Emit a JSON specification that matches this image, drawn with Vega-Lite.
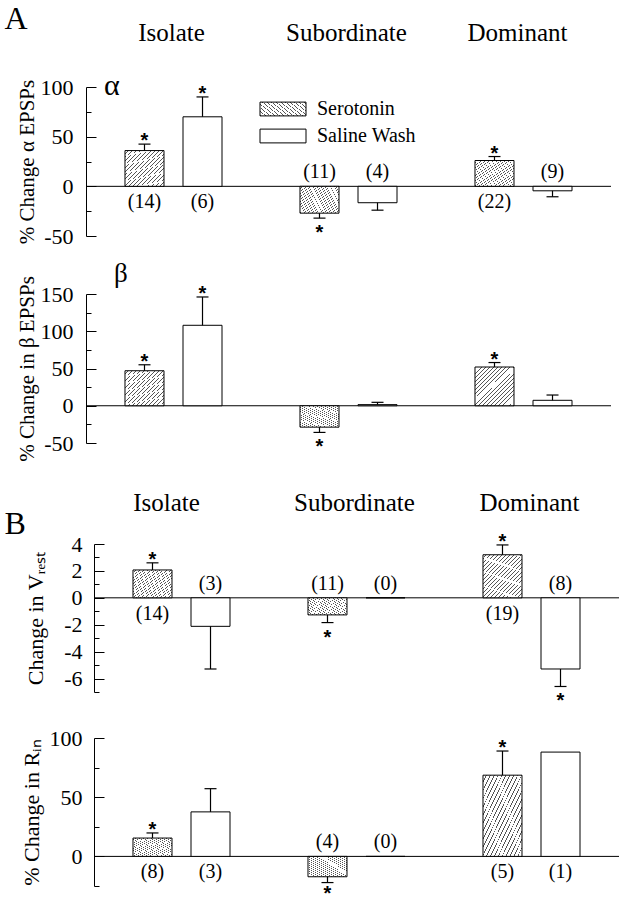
{
  "$schema": "https://vega.github.io/schema/vega-lite/v6.json",
  "padding": {"left": 4, "top": 2, "right": 0, "bottom": 0},
  "background": "white",
  "bounds": "flush",
  "spacing": 46,
  "params": [
    {"name": "hatch", "expr": "{gradient:'linear',x1:0,y1:0,x2:1,y2:1,stops:[{offset:0,color:'#fff'},{offset:0.039,color:'#fff'},{offset:0.039,color:'#555'},{offset:0.05,color:'#555'},{offset:0.05,color:'#fff'},{offset:0.089,color:'#fff'},{offset:0.089,color:'#555'},{offset:0.1,color:'#555'},{offset:0.1,color:'#fff'},{offset:0.139,color:'#fff'},{offset:0.139,color:'#555'},{offset:0.15,color:'#555'},{offset:0.15,color:'#fff'},{offset:0.189,color:'#fff'},{offset:0.189,color:'#555'},{offset:0.2,color:'#555'},{offset:0.2,color:'#fff'},{offset:0.239,color:'#fff'},{offset:0.239,color:'#555'},{offset:0.25,color:'#555'},{offset:0.25,color:'#fff'},{offset:0.289,color:'#fff'},{offset:0.289,color:'#555'},{offset:0.3,color:'#555'},{offset:0.3,color:'#fff'},{offset:0.339,color:'#fff'},{offset:0.339,color:'#555'},{offset:0.35,color:'#555'},{offset:0.35,color:'#fff'},{offset:0.389,color:'#fff'},{offset:0.389,color:'#555'},{offset:0.4,color:'#555'},{offset:0.4,color:'#fff'},{offset:0.439,color:'#fff'},{offset:0.439,color:'#555'},{offset:0.45,color:'#555'},{offset:0.45,color:'#fff'},{offset:0.489,color:'#fff'},{offset:0.489,color:'#555'},{offset:0.5,color:'#555'},{offset:0.5,color:'#fff'},{offset:0.539,color:'#fff'},{offset:0.539,color:'#555'},{offset:0.55,color:'#555'},{offset:0.55,color:'#fff'},{offset:0.589,color:'#fff'},{offset:0.589,color:'#555'},{offset:0.6,color:'#555'},{offset:0.6,color:'#fff'},{offset:0.639,color:'#fff'},{offset:0.639,color:'#555'},{offset:0.65,color:'#555'},{offset:0.65,color:'#fff'},{offset:0.689,color:'#fff'},{offset:0.689,color:'#555'},{offset:0.7,color:'#555'},{offset:0.7,color:'#fff'},{offset:0.739,color:'#fff'},{offset:0.739,color:'#555'},{offset:0.75,color:'#555'},{offset:0.75,color:'#fff'},{offset:0.789,color:'#fff'},{offset:0.789,color:'#555'},{offset:0.8,color:'#555'},{offset:0.8,color:'#fff'},{offset:0.839,color:'#fff'},{offset:0.839,color:'#555'},{offset:0.85,color:'#555'},{offset:0.85,color:'#fff'},{offset:0.889,color:'#fff'},{offset:0.889,color:'#555'},{offset:0.9,color:'#555'},{offset:0.9,color:'#fff'},{offset:0.939,color:'#fff'},{offset:0.939,color:'#555'},{offset:0.95,color:'#555'},{offset:0.95,color:'#fff'},{offset:0.989,color:'#fff'},{offset:0.989,color:'#555'},{offset:1,color:'#555'}]}"}
  ],
  "data": {"values": [
    {"p": "a", "g": "Isolate", "c": "Serotonin", "v": 36, "err": 42.5, "nl": "(14)", "sig": true},
    {"p": "a", "g": "Isolate", "c": "Saline Wash", "v": 70, "err": 90, "nl": "(6)", "sig": true},
    {"p": "a", "g": "Subordinate", "c": "Serotonin", "v": -27, "err": -32, "nl": "(11)", "sig": true},
    {"p": "a", "g": "Subordinate", "c": "Saline Wash", "v": -16.5, "err": -24, "nl": "(4)", "sig": false},
    {"p": "a", "g": "Dominant", "c": "Serotonin", "v": 26, "err": 30, "nl": "(22)", "sig": true},
    {"p": "a", "g": "Dominant", "c": "Saline Wash", "v": -4.5, "err": -10.5, "nl": "(9)", "sig": false},
    {"p": "b", "g": "Isolate", "c": "Serotonin", "v": 47, "err": 55, "nl": null, "sig": true},
    {"p": "b", "g": "Isolate", "c": "Saline Wash", "v": 108, "err": 146, "nl": null, "sig": true},
    {"p": "b", "g": "Subordinate", "c": "Serotonin", "v": -28.7, "err": -35.8, "nl": null, "sig": true},
    {"p": "b", "g": "Subordinate", "c": "Saline Wash", "v": 1.5, "err": 4.6, "nl": null, "sig": false},
    {"p": "b", "g": "Dominant", "c": "Serotonin", "v": 52, "err": 58, "nl": null, "sig": true},
    {"p": "b", "g": "Dominant", "c": "Saline Wash", "v": 7.3, "err": 14.4, "nl": null, "sig": false},
    {"p": "v", "g": "Isolate", "c": "Serotonin", "v": 2.07, "err": 2.6, "nl": "(14)", "sig": true},
    {"p": "v", "g": "Isolate", "c": "Saline Wash", "v": -2.12, "err": -5.29, "nl": "(3)", "sig": false},
    {"p": "v", "g": "Subordinate", "c": "Serotonin", "v": -1.27, "err": -1.84, "nl": "(11)", "sig": true},
    {"p": "v", "g": "Subordinate", "c": "Saline Wash", "v": 0, "err": null, "nl": "(0)", "sig": false},
    {"p": "v", "g": "Dominant", "c": "Serotonin", "v": 3.2, "err": 3.93, "nl": "(19)", "sig": true},
    {"p": "v", "g": "Dominant", "c": "Saline Wash", "v": -5.29, "err": -6.59, "nl": "(8)", "sig": true},
    {"p": "r", "g": "Isolate", "c": "Serotonin", "v": 15.5, "err": 19.8, "nl": "(8)", "sig": true},
    {"p": "r", "g": "Isolate", "c": "Saline Wash", "v": 37.6, "err": 57.2, "nl": "(3)", "sig": false},
    {"p": "r", "g": "Subordinate", "c": "Serotonin", "v": -17.2, "err": -22.1, "nl": "(4)", "sig": true},
    {"p": "r", "g": "Subordinate", "c": "Saline Wash", "v": 0, "err": null, "nl": "(0)", "sig": false},
    {"p": "r", "g": "Dominant", "c": "Serotonin", "v": 68.6, "err": 89, "nl": "(5)", "sig": true},
    {"p": "r", "g": "Dominant", "c": "Saline Wash", "v": 88.1, "err": null, "nl": "(1)", "sig": false}
  ]},
  "resolve": {
    "scale": {"x": "independent", "y": "independent", "xOffset": "independent", "fill": "independent"},
    "axis": {"x": "independent", "y": "independent"},
    "legend": {"fill": "independent"}
  },
  "config": {
    "view": {"stroke": null},
    "font": "Liberation Serif",
    "axis": {"domainColor": "black", "domainWidth": 1, "tickColor": "black", "tickWidth": 1, "labelColor": "black", "titleColor": "black", "labelFont": "Liberation Serif", "titleFont": "Liberation Serif", "titleFontWeight": "normal", "grid": false}
  },
  "vconcat": [
    {
      "width": 525, "height": 149,
      "transform": [{"filter": "datum.p === 'a'"}],
      "encoding": {
        "x": {"field": "g", "type": "nominal", "sort": ["Isolate", "Subordinate", "Dominant"], "scale": {"paddingInner": 0, "paddingOuter": 0},
          "axis": {"orient": "top", "domain": false, "ticks": false, "tickSize": 0, "labelPadding": 47, "labelFontSize": 25, "labelBaseline": "alphabetic", "labelAngle": 0,
            "labelOffset": {"condition": {"test": "datum.value === 'Dominant'", "value": -6}, "value": -2},
            "title": "A", "titleX": -82, "titleY": -59, "titleAlign": "left", "titleBaseline": "alphabetic", "titleAngle": 0, "titleFontSize": 32}},
        "y": {"field": "v", "type": "quantitative", "scale": {"domain": [-50, 100], "nice": false, "zero": false},
          "axis": {"title": "% Change α EPSPs", "titleFontSize": 21, "titlePadding": 3, "values": [-50, -25, 0, 25, 50, 75, 100],
            "labelExpr": "datum.value % 50 === 0 ? '' + datum.value : ''",
            "tickSize": {"condition": {"test": "datum.value % 50 !== 0", "value": -5}, "value": -10},
            "labelPadding": 23, "labelFontSize": 22, "labelOverlap": false, "labelFlush": false}}
      },
      "layer": [
        {"transform": [{"filter": "datum.g === 'Isolate' && datum.c === 'Serotonin'"}], "mark": {"type": "rule", "color": "black", "strokeWidth": 1, "opacity": 1},
          "encoding": {"x": {"datum": "Isolate", "bandPosition": 0}, "x2": {"value": "width"}, "y": {"datum": 0}}},
        {"transform": [{"filter": "datum.v != null"}], "mark": {"type": "bar", "stroke": "black", "strokeWidth": 1, "opacity": 1},
          "encoding": {"xOffset": {"field": "c", "type": "nominal", "sort": ["Serotonin", "Saline Wash"], "scale": {"paddingInner": 0.3276, "paddingOuter": 0.672}},
            "y2": {"datum": 0},
            "fill": {"field": "c", "type": "nominal", "scale": {"domain": ["Serotonin", "Saline Wash"], "range": [{"expr": "hatch"}, "white"]},
              "legend": {"orient": "none", "legendX": 185, "legendY": 10, "title": null, "symbolType": "M-2,-0.6H2V0.6H-2Z", "symbolSize": 529, "symbolStrokeColor": "black", "symbolStrokeWidth": 1, "symbolOpacity": 1, "labelFont": "Liberation Serif", "labelFontSize": 20, "labelColor": "black", "labelOffset": 22, "rowPadding": 5, "labelLimit": 0}}}},
        {"transform": [{"filter": "datum.err != null"}], "mark": {"type": "rule", "color": "black", "strokeWidth": 1.2, "opacity": 1},
          "encoding": {"xOffset": {"field": "c", "type": "nominal", "sort": ["Serotonin", "Saline Wash"]}, "y2": {"field": "err"}}},
        {"transform": [{"filter": "datum.err != null"}], "mark": {"type": "tick", "orient": "horizontal", "size": 12, "thickness": 1.2, "color": "black", "opacity": 1},
          "encoding": {"xOffset": {"field": "c", "type": "nominal", "sort": ["Serotonin", "Saline Wash"]}, "y": {"field": "err", "type": "quantitative"}}},
        {"transform": [{"filter": "datum.sig && datum.v > 0"}], "mark": {"type": "text", "text": "*", "font": "Liberation Sans", "fontWeight": "bold", "fontSize": 20, "baseline": "alphabetic", "dy": 3, "color": "black", "opacity": 1},
          "encoding": {"xOffset": {"field": "c", "type": "nominal", "sort": ["Serotonin", "Saline Wash"]}, "y": {"field": "err", "type": "quantitative"}}},
        {"transform": [{"filter": "datum.sig && datum.v < 0"}], "mark": {"type": "text", "text": "*", "font": "Liberation Sans", "fontWeight": "bold", "fontSize": 20, "baseline": "alphabetic", "dy": 21, "color": "black", "opacity": 1},
          "encoding": {"xOffset": {"field": "c", "type": "nominal", "sort": ["Serotonin", "Saline Wash"]}, "y": {"field": "err", "type": "quantitative"}}},
        {"transform": [{"filter": "datum.nl != null && datum.v > 0"}], "mark": {"type": "text", "font": "Liberation Serif", "fontSize": 20, "baseline": "middle", "dy": 16, "color": "black", "opacity": 1},
          "encoding": {"xOffset": {"field": "c", "type": "nominal", "sort": ["Serotonin", "Saline Wash"]}, "y": {"datum": 0}, "text": {"field": "nl"}}},
        {"transform": [{"filter": "datum.nl != null && !(datum.v > 0)"}], "mark": {"type": "text", "font": "Liberation Serif", "fontSize": 20, "baseline": "middle", "dy": -14, "color": "black", "opacity": 1},
          "encoding": {"xOffset": {"field": "c", "type": "nominal", "sort": ["Serotonin", "Saline Wash"]}, "y": {"datum": 0}, "text": {"field": "nl"}}},
        {"transform": [{"filter": "datum.g === 'Isolate' && datum.c === 'Serotonin'"}], "mark": {"type": "text", "text": "α", "font": "Liberation Serif", "fontSize": 30, "align": "left", "baseline": "alphabetic", "dx": 18, "dy": 8, "color": "black"},
          "encoding": {"x": {"datum": "Isolate", "bandPosition": 0}, "y": {"datum": 100}}}
      ]
    },
    {
      "width": 525, "height": 216,
      "transform": [{"filter": "datum.p === 'b'"}],
      "encoding": {
        "x": {"field": "g", "type": "nominal", "sort": ["Isolate", "Subordinate", "Dominant"], "scale": {"paddingInner": 0, "paddingOuter": 0}, "axis": null},
        "y": {"field": "v", "type": "quantitative", "scale": {"domain": [-50, 150], "nice": false, "zero": false, "range": [161, 12]},
          "axis": {"title": "% Change in β EPSPs", "titleFontSize": 21, "titlePadding": 3, "values": [-50, -25, 0, 25, 50, 75, 100, 125, 150],
            "labelExpr": "datum.value % 50 === 0 ? '' + datum.value : ''",
            "tickSize": {"condition": {"test": "datum.value % 50 !== 0", "value": -5}, "value": -10},
            "labelPadding": 23, "labelFontSize": 22, "labelOverlap": false, "labelFlush": false}}
      },
      "layer": [
        {"transform": [{"filter": "datum.g === 'Isolate' && datum.c === 'Serotonin'"}], "mark": {"type": "rule", "color": "black", "strokeWidth": 1, "opacity": 1},
          "encoding": {"x": {"datum": "Isolate", "bandPosition": 0}, "x2": {"value": "width"}, "y": {"datum": 0}}},
        {"transform": [{"filter": "datum.v != null"}], "mark": {"type": "bar", "stroke": "black", "strokeWidth": 1, "opacity": 1},
          "encoding": {"xOffset": {"field": "c", "type": "nominal", "sort": ["Serotonin", "Saline Wash"], "scale": {"paddingInner": 0.3276, "paddingOuter": 0.672}},
            "y2": {"datum": 0},
            "fill": {"field": "c", "type": "nominal", "scale": {"domain": ["Serotonin", "Saline Wash"], "range": [{"expr": "hatch"}, "white"]}, "legend": null}}},
        {"transform": [{"filter": "datum.err != null"}], "mark": {"type": "rule", "color": "black", "strokeWidth": 1.2, "opacity": 1},
          "encoding": {"xOffset": {"field": "c", "type": "nominal", "sort": ["Serotonin", "Saline Wash"]}, "y2": {"field": "err"}}},
        {"transform": [{"filter": "datum.err != null"}], "mark": {"type": "tick", "orient": "horizontal", "size": 12, "thickness": 1.2, "color": "black", "opacity": 1},
          "encoding": {"xOffset": {"field": "c", "type": "nominal", "sort": ["Serotonin", "Saline Wash"]}, "y": {"field": "err", "type": "quantitative"}}},
        {"transform": [{"filter": "datum.sig && datum.v > 0"}], "mark": {"type": "text", "text": "*", "font": "Liberation Sans", "fontWeight": "bold", "fontSize": 20, "baseline": "alphabetic", "dy": 3, "color": "black", "opacity": 1},
          "encoding": {"xOffset": {"field": "c", "type": "nominal", "sort": ["Serotonin", "Saline Wash"]}, "y": {"field": "err", "type": "quantitative"}}},
        {"transform": [{"filter": "datum.sig && datum.v < 0"}], "mark": {"type": "text", "text": "*", "font": "Liberation Sans", "fontWeight": "bold", "fontSize": 20, "baseline": "alphabetic", "dy": 21, "color": "black", "opacity": 1},
          "encoding": {"xOffset": {"field": "c", "type": "nominal", "sort": ["Serotonin", "Saline Wash"]}, "y": {"field": "err", "type": "quantitative"}}},
        {"transform": [{"filter": "datum.g === 'Isolate' && datum.c === 'Serotonin'"}], "mark": {"type": "text", "text": "β", "font": "Liberation Serif", "fontSize": 27, "align": "left", "baseline": "alphabetic", "dx": 28, "dy": -12, "color": "black"},
          "encoding": {"x": {"datum": "Isolate", "bandPosition": 0}, "y": {"datum": 150}}}
      ]
    },
    {
      "width": 533, "height": 148,
      "transform": [{"filter": "datum.p === 'v'"}],
      "encoding": {
        "x": {"field": "g", "type": "nominal", "sort": ["Isolate", "Subordinate", "Dominant"], "scale": {"paddingInner": 0, "paddingOuter": 0.02286, "align": 1},
          "axis": {"orient": "top", "domain": false, "ticks": false, "tickSize": 0, "labelPadding": 34, "labelFontSize": 25, "labelBaseline": "alphabetic", "labelAngle": 0,
            "labelOffset": {"condition": {"test": "datum.value === 'Isolate'", "value": -15}, "value": -2},
            "title": "B", "titleX": -82, "titleY": -11, "titleAlign": "left", "titleBaseline": "alphabetic", "titleAngle": 0, "titleFontSize": 32}},
        "y": {"field": "v", "type": "quantitative", "scale": {"domain": [-7, 4], "nice": false, "zero": false},
          "axis": {"title": "Change in Vᵣₑₛₜ", "titleFontSize": 22, "titlePadding": 16, "offset": -8, "values": [-7, -6, -5, -4, -3, -2, -1, 0, 1, 2, 3, 4],
            "labelExpr": "datum.value % 2 === 0 ? '' + datum.value : ''",
            "tickSize": {"condition": {"test": "datum.value % 2 !== 0", "value": -5}, "value": -10},
            "labelPadding": 22, "labelFontSize": 22, "labelOverlap": false, "labelFlush": false}}
      },
      "layer": [
        {"transform": [{"filter": "datum.g === 'Isolate' && datum.c === 'Serotonin'"}], "mark": {"type": "rule", "color": "black", "strokeWidth": 1, "opacity": 1},
          "encoding": {"x": {"datum": "Isolate", "bandPosition": 0}, "x2": {"value": "width"}, "y": {"datum": 0}}},
        {"transform": [{"filter": "datum.v != null"}], "mark": {"type": "bar", "stroke": "black", "strokeWidth": 1, "opacity": 1},
          "encoding": {"xOffset": {"field": "c", "type": "nominal", "sort": ["Serotonin", "Saline Wash"], "scale": {"paddingInner": 0.3276, "paddingOuter": 0.672}},
            "y2": {"datum": 0},
            "fill": {"field": "c", "type": "nominal", "scale": {"domain": ["Serotonin", "Saline Wash"], "range": [{"expr": "hatch"}, "white"]}, "legend": null}}},
        {"transform": [{"filter": "datum.err != null"}], "mark": {"type": "rule", "color": "black", "strokeWidth": 1.2, "opacity": 1},
          "encoding": {"xOffset": {"field": "c", "type": "nominal", "sort": ["Serotonin", "Saline Wash"]}, "y2": {"field": "err"}}},
        {"transform": [{"filter": "datum.err != null"}], "mark": {"type": "tick", "orient": "horizontal", "size": 12, "thickness": 1.2, "color": "black", "opacity": 1},
          "encoding": {"xOffset": {"field": "c", "type": "nominal", "sort": ["Serotonin", "Saline Wash"]}, "y": {"field": "err", "type": "quantitative"}}},
        {"transform": [{"filter": "datum.sig && datum.v > 0"}], "mark": {"type": "text", "text": "*", "font": "Liberation Sans", "fontWeight": "bold", "fontSize": 20, "baseline": "alphabetic", "dy": 3, "color": "black", "opacity": 1},
          "encoding": {"xOffset": {"field": "c", "type": "nominal", "sort": ["Serotonin", "Saline Wash"]}, "y": {"field": "err", "type": "quantitative"}}},
        {"transform": [{"filter": "datum.sig && datum.v < 0"}], "mark": {"type": "text", "text": "*", "font": "Liberation Sans", "fontWeight": "bold", "fontSize": 20, "baseline": "alphabetic", "dy": 21, "color": "black", "opacity": 1},
          "encoding": {"xOffset": {"field": "c", "type": "nominal", "sort": ["Serotonin", "Saline Wash"]}, "y": {"field": "err", "type": "quantitative"}}},
        {"transform": [{"filter": "datum.nl != null && datum.v > 0"}], "mark": {"type": "text", "font": "Liberation Serif", "fontSize": 20, "baseline": "middle", "dy": 16, "color": "black", "opacity": 1},
          "encoding": {"xOffset": {"field": "c", "type": "nominal", "sort": ["Serotonin", "Saline Wash"]}, "y": {"datum": 0}, "text": {"field": "nl"}}},
        {"transform": [{"filter": "datum.nl != null && !(datum.v > 0)"}], "mark": {"type": "text", "font": "Liberation Serif", "fontSize": 20, "baseline": "middle", "dy": -14, "color": "black", "opacity": 1},
          "encoding": {"xOffset": {"field": "c", "type": "nominal", "sort": ["Serotonin", "Saline Wash"]}, "y": {"datum": 0}, "text": {"field": "nl"}}}
      ]
    },
    {
      "width": 533, "height": 148,
      "transform": [{"filter": "datum.p === 'r'"}],
      "encoding": {
        "x": {"field": "g", "type": "nominal", "sort": ["Isolate", "Subordinate", "Dominant"], "scale": {"paddingInner": 0, "paddingOuter": 0.02286, "align": 1}, "axis": null},
        "y": {"field": "v", "type": "quantitative", "scale": {"domain": [-25, 100], "nice": false, "zero": false},
          "axis": {"title": "% Change in Rᵢₙ", "titleFontSize": 22, "titlePadding": 6, "offset": -8, "values": [-25, 0, 25, 50, 75, 100],
            "labelExpr": "datum.value % 50 === 0 ? '' + datum.value : ''",
            "tickSize": {"condition": {"test": "datum.value % 50 !== 0", "value": -5}, "value": -10},
            "labelPadding": 22, "labelFontSize": 22, "labelOverlap": false, "labelFlush": false}}
      },
      "layer": [
        {"transform": [{"filter": "datum.g === 'Isolate' && datum.c === 'Serotonin'"}], "mark": {"type": "rule", "color": "black", "strokeWidth": 1, "opacity": 1},
          "encoding": {"x": {"datum": "Isolate", "bandPosition": 0}, "x2": {"value": "width"}, "y": {"datum": 0}}},
        {"transform": [{"filter": "datum.v != null"}], "mark": {"type": "bar", "stroke": "black", "strokeWidth": 1, "opacity": 1},
          "encoding": {"xOffset": {"field": "c", "type": "nominal", "sort": ["Serotonin", "Saline Wash"], "scale": {"paddingInner": 0.3276, "paddingOuter": 0.672}},
            "y2": {"datum": 0},
            "fill": {"field": "c", "type": "nominal", "scale": {"domain": ["Serotonin", "Saline Wash"], "range": [{"expr": "hatch"}, "white"]}, "legend": null}}},
        {"transform": [{"filter": "datum.err != null"}], "mark": {"type": "rule", "color": "black", "strokeWidth": 1.2, "opacity": 1},
          "encoding": {"xOffset": {"field": "c", "type": "nominal", "sort": ["Serotonin", "Saline Wash"]}, "y2": {"field": "err"}}},
        {"transform": [{"filter": "datum.err != null"}], "mark": {"type": "tick", "orient": "horizontal", "size": 12, "thickness": 1.2, "color": "black", "opacity": 1},
          "encoding": {"xOffset": {"field": "c", "type": "nominal", "sort": ["Serotonin", "Saline Wash"]}, "y": {"field": "err", "type": "quantitative"}}},
        {"transform": [{"filter": "datum.sig && datum.v > 0"}], "mark": {"type": "text", "text": "*", "font": "Liberation Sans", "fontWeight": "bold", "fontSize": 20, "baseline": "alphabetic", "dy": 3, "color": "black", "opacity": 1},
          "encoding": {"xOffset": {"field": "c", "type": "nominal", "sort": ["Serotonin", "Saline Wash"]}, "y": {"field": "err", "type": "quantitative"}}},
        {"transform": [{"filter": "datum.sig && datum.v < 0"}], "mark": {"type": "text", "text": "*", "font": "Liberation Sans", "fontWeight": "bold", "fontSize": 20, "baseline": "alphabetic", "dy": 17, "color": "black", "opacity": 1},
          "encoding": {"xOffset": {"field": "c", "type": "nominal", "sort": ["Serotonin", "Saline Wash"]}, "y": {"field": "err", "type": "quantitative"}}},
        {"transform": [{"filter": "datum.nl != null && datum.v > 0"}], "mark": {"type": "text", "font": "Liberation Serif", "fontSize": 20, "baseline": "middle", "dy": 16, "color": "black", "opacity": 1},
          "encoding": {"xOffset": {"field": "c", "type": "nominal", "sort": ["Serotonin", "Saline Wash"]}, "y": {"datum": 0}, "text": {"field": "nl"}}},
        {"transform": [{"filter": "datum.nl != null && !(datum.v > 0)"}], "mark": {"type": "text", "font": "Liberation Serif", "fontSize": 20, "baseline": "middle", "dy": -14, "color": "black", "opacity": 1},
          "encoding": {"xOffset": {"field": "c", "type": "nominal", "sort": ["Serotonin", "Saline Wash"]}, "y": {"datum": 0}, "text": {"field": "nl"}}}
      ]
    }
  ]
}
